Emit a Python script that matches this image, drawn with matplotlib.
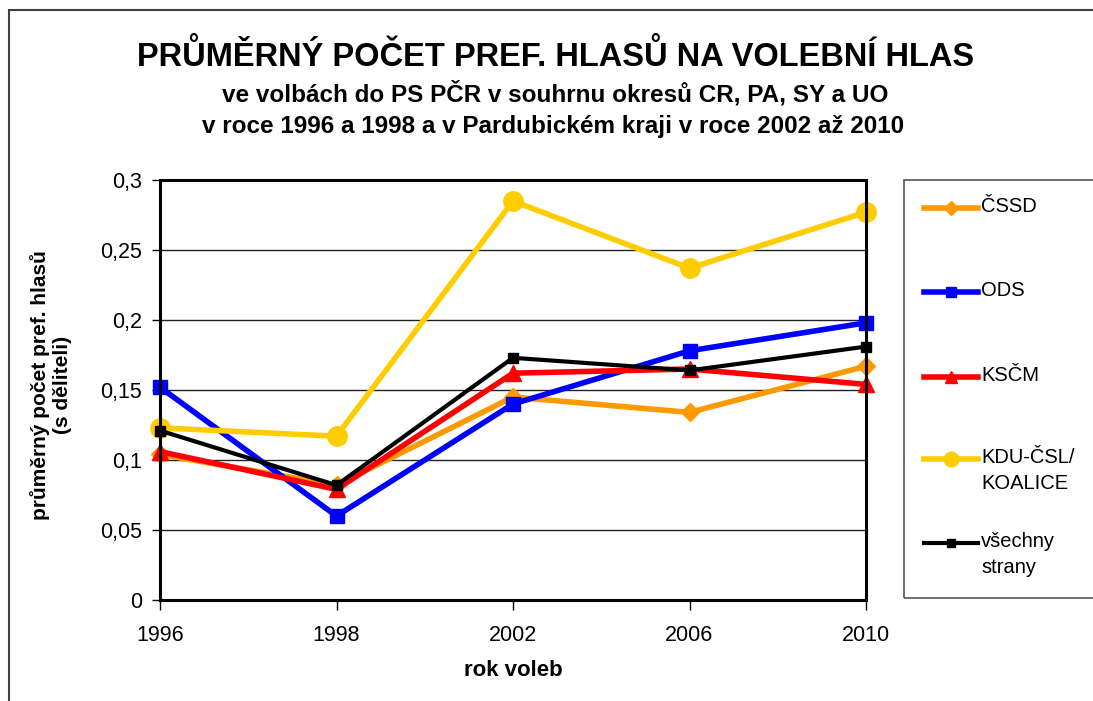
import matplotlib
matplotlib.use('Agg')
import matplotlib.pyplot as plt
from matplotlib.lines import Line2D
from matplotlib.patches import Rectangle

plt.rcParams['font.family'] = ['Liberation Sans', 'DejaVu Sans']

years = ['1996', '1998', '2002', '2006', '2010']
cssd = [0.104, 0.082, 0.145, 0.134, 0.167]
ods = [0.152, 0.060, 0.140, 0.178, 0.198]
kscm = [0.106, 0.079, 0.162, 0.165, 0.154]
kdu = [0.123, 0.117, 0.285, 0.237, 0.277]
vse = [0.121, 0.082, 0.173, 0.164, 0.181]

yticks = [0, 0.05, 0.1, 0.15, 0.2, 0.25, 0.3]
ytick_labels = ['0', '0,05', '0,1', '0,15', '0,2', '0,25', '0,3']

series = [
    ('ČSSD', cssd, '#FF9900', 'D', 9, 4),
    ('ODS', ods, '#0000FF', 's', 10, 4),
    ('KSČM', kscm, '#FF0000', '^', 12, 4),
    ('KDU-ČSL/\nKOALICE', kdu, '#FFCC00', 'o', 14, 4),
    ('všechny\nstrany', vse, '#000000', 's', 7, 3),
]

W, H = 1093, 701
fig = plt.figure(figsize=(W / 100, H / 100), dpi=100)
ax = fig.add_axes([160 / W, 1 - 600 / H, (866 - 160) / W, (600 - 180) / H])

# outer chart frame (runs off the right/bottom edge)
fig.add_artist(Rectangle((9 / W, -0.05), 1.1, 1 - 10 / H + 0.05, transform=fig.transFigure,
                         fill=False, edgecolor='#404040', linewidth=1.5))

x = range(len(years))
for name, vals, col, mk, ms, lw in series:
    ax.plot(x, vals, color=col, marker=mk, markersize=ms, linewidth=lw,
            markeredgecolor=col, clip_on=False)

ax.set_xlim(0, len(years) - 1)
ax.set_ylim(0, 0.3)
ax.set_yticks(yticks)
ax.set_yticklabels(ytick_labels, fontsize=15.5)
ax.set_xticks(list(x))
ax.set_xticklabels(years, fontsize=15.5)
ax.tick_params(axis='y', direction='out', length=6, width=1, pad=7)
ax.tick_params(axis='x', direction='out', length=7, width=1, pad=11)
ax.grid(axis='y', color='#222222', linewidth=1)
ax.set_axisbelow(True)
for s in ax.spines.values():
    s.set_linewidth(2.2)
    s.set_color('black')

fig.text(51 / W, 1 - 385 / H, 'průměrný počet pref. hlasů\n(s děliteli)', rotation=90,
         ha='center', va='center', fontsize=15, fontweight='bold', linespacing=1.25)
fig.text(513 / W, 1 - 671 / H, 'rok voleb', ha='center', va='center',
         fontsize=16, fontweight='bold')

fig.text(556 / W, 1 - 56 / H, 'PRŮMĚRNÝ POČET PREF. HLASŮ NA VOLEBNÍ HLAS',
         ha='center', va='center', fontsize=23.5, fontweight='bold')
fig.text(555 / W, 1 - 94 / H, 've volbách do PS PČR v souhrnu okresů CR, PA, SY a UO',
         ha='center', va='center', fontsize=17.5, fontweight='bold')
fig.text(553 / W, 1 - 127 / H, 'v roce 1996 a 1998 a v Pardubickém kraji v roce 2002 až 2010',
         ha='center', va='center', fontsize=17.5, fontweight='bold')

# legend box
fig.add_artist(Rectangle((904 / W, 1 - 598 / H), 0.3, (598 - 180) / H, transform=fig.transFigure,
                         fill=False, edgecolor='#555555', linewidth=1.2))
leg_y = [208, 292, 377, 459, 543]
for (name, vals, col, mk, ms, lw), yy in zip(series, leg_y):
    yf = 1 - yy / H
    fig.add_artist(Line2D([924 / W, 978 / W], [yf, yf], color=col, linewidth=lw,
                          transform=fig.transFigure))
    fig.add_artist(Line2D([951 / W], [yf], color=col, marker=mk, markersize=ms * 0.75,
                          transform=fig.transFigure))
    fig.text(981 / W, yf + 11 / H, name, ha='left', va='top', fontsize=14.5, linespacing=1.45)

fig.savefig('out.png', dpi=100)
